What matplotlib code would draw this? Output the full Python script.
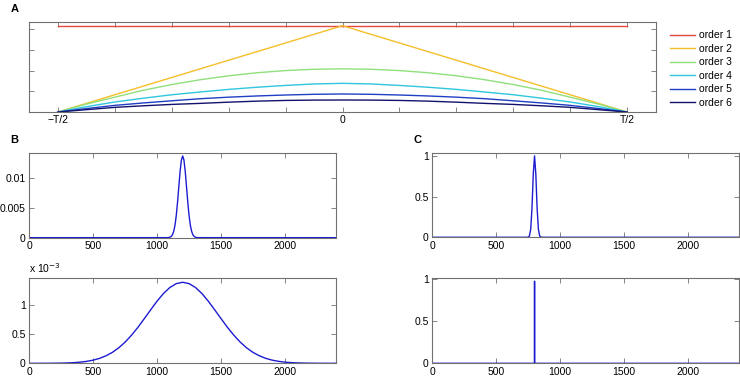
import numpy as np
import matplotlib.pyplot as plt

plt.rcParams['font.family'] = ['Liberation Sans', 'DejaVu Sans']

# panel A: window functions of increasing order over one period
win_x = [-0.5, -0.45, -0.4, -0.35, -0.3, -0.25, -0.2, -0.15, -0.1, -0.05, 0.0,
         0.05, 0.1, 0.15, 0.2, 0.25, 0.3, 0.35, 0.4, 0.45, 0.5]
order1 = [1.0] * 21
order2 = [0.0, 0.1, 0.2, 0.3, 0.4, 0.5, 0.6, 0.7, 0.8, 0.9, 1.0,
          0.9, 0.8, 0.7, 0.6, 0.5, 0.4, 0.3, 0.2, 0.1, 0.0]
order3 = [0.0, 0.092, 0.172, 0.252, 0.318, 0.374, 0.42, 0.455, 0.48, 0.495, 0.5,
          0.495, 0.48, 0.455, 0.42, 0.374, 0.318, 0.252, 0.172, 0.092, 0.0]
order4 = [0.0, 0.062, 0.116, 0.16, 0.2, 0.232, 0.262, 0.287, 0.308, 0.325, 0.332,
          0.325, 0.308, 0.287, 0.262, 0.232, 0.2, 0.16, 0.116, 0.062, 0.0]
order5 = [0.0, 0.04, 0.077, 0.105, 0.13, 0.154, 0.172, 0.186, 0.197, 0.205, 0.209,
          0.205, 0.197, 0.186, 0.172, 0.154, 0.13, 0.105, 0.077, 0.04, 0.0]
order6 = [0.0, 0.027, 0.054, 0.072, 0.088, 0.1, 0.114, 0.126, 0.134, 0.138, 0.139,
          0.138, 0.134, 0.126, 0.114, 0.1, 0.088, 0.072, 0.054, 0.027, 0.0]
orders = [order1, order2, order3, order4, order5, order6]
order_labels = ['order 1', 'order 2', 'order 3', 'order 4', 'order 5', 'order 6']
order_colors = ['#e6473f', '#f4bf2a', '#90e07c', '#2fc6de', '#1f3fc4', '#12126e']

# panel B top: narrow pulse
b1_x = [0, 1080, 1090, 1100, 1110, 1120, 1130, 1140, 1150, 1160, 1170, 1180, 1190, 1200,
        1210, 1220, 1230, 1240, 1250, 1260, 1270, 1280, 1290, 1300, 1310, 1320, 2400]
b1_y = [0, 0.000008, 0.000025, 0.000076, 0.0002, 0.00049, 0.00108, 0.00211, 0.00375,
        0.00598, 0.00861, 0.01117, 0.01305, 0.01375, 0.01305, 0.01117, 0.00861, 0.00598,
        0.00375, 0.00211, 0.00108, 0.00049, 0.0002, 0.000076, 0.000025, 0.000008, 0]

# panel B bottom: wide pulse (values in units of 1e-3)
b2_x = list(range(0, 2401, 50))
b2_y = [0.0001, 0.0002, 0.0005, 0.0009, 0.0019, 0.0036, 0.0066, 0.0117, 0.0202, 0.0338,
        0.0545, 0.085, 0.129, 0.188, 0.266, 0.364, 0.483, 0.618, 0.767, 0.919, 1.067,
        1.198, 1.301, 1.367, 1.39, 1.367, 1.301, 1.198, 1.067, 0.919, 0.767, 0.618,
        0.483, 0.364, 0.266, 0.188, 0.129, 0.085, 0.0545, 0.0338, 0.0202, 0.0117,
        0.0066, 0.0036, 0.0019, 0.0009, 0.0005, 0.0002, 0.0001]

# panel C top: normalised pulse
c1_x = [0, 740, 750, 760, 770, 780, 790, 800, 810, 820, 830, 840, 850, 860, 2400]
c1_y = [0, 0, 0.002, 0.017, 0.1, 0.36, 0.775, 1.0, 0.775, 0.36, 0.1, 0.017, 0.002, 0, 0]

# panel C bottom: spike
c2_x = [0, 799, 800, 801, 2400]
c2_y = [0, 0, 0.975, 0, 0]

pulse_ticks = [0, 500, 1000, 1500, 2000]
spine_col = '#707070'
line_col = '#1c1cd0'
fs = 7.5


def style_axes(ax):
    for s in ax.spines.values():
        s.set_color(spine_col)
        s.set_linewidth(0.8)
    ax.tick_params(direction='in', top=True, right=True, length=3.5, width=0.6,
                   color=spine_col, labelsize=fs, pad=2.5)


fig = plt.figure(figsize=(7.4, 3.77), dpi=100)

# panel A
axA = fig.add_axes([0.0392, 0.7029, 0.8473, 0.2395])
for ys, lab, col in zip(orders, order_labels, order_colors):
    axA.plot(win_x, ys, color=col, lw=1.0, label=lab)
axA.set_xlim(-0.551, 0.551)
axA.set_ylim(0, 1.046)
axA.set_xticks(np.round(np.arange(-0.5, 0.51, 0.1), 2))
axA.set_xticklabels(['\u2212T/2', '', '', '', '', '0', '', '', '', '', 'T/2'])
axA.set_yticks([0, 0.24, 0.48, 0.72, 0.96])
axA.set_yticklabels([])
style_axes(axA)
axA.legend(loc='upper left', bbox_to_anchor=(1.015, 0.95), frameon=False,
           fontsize=fs, handlelength=2.4, handletextpad=0.4, labelspacing=0.33,
           borderaxespad=0)

# panel B
axB1 = fig.add_axes([0.0396, 0.3695, 0.4145, 0.2255])
axB1.plot(b1_x, b1_y, color=line_col, lw=1.0)
axB1.set_xlim(0, 2400)
axB1.set_ylim(0, 0.0143)
axB1.set_yticks([0, 0.005, 0.01])
axB1.set_yticklabels(['0', '0.005', '0.01'])
axB1.set_xticks(pulse_ticks)
style_axes(axB1)

axB2 = fig.add_axes([0.0396, 0.0363, 0.4145, 0.2255])
axB2.plot(b2_x, b2_y, color=line_col, lw=1.0)
axB2.set_xlim(0, 2400)
axB2.set_ylim(0, 1.458)
axB2.set_yticks([0, 0.5, 1])
axB2.set_yticklabels(['0', '0.5', '1'])
axB2.set_xticks(pulse_ticks)
style_axes(axB2)
axB2.text(0.0, 1.04, 'x 10$^{-3}$', transform=axB2.transAxes, fontsize=fs,
          ha='left', va='bottom')

# panel C
axC1 = fig.add_axes([0.5842, 0.3706, 0.4145, 0.2245])
axC1.plot(c1_x, c1_y, color=line_col, lw=1.0)
axC1.set_xlim(0, 2400)
axC1.set_ylim(0, 1.04)
axC1.set_yticks([0, 0.5, 1])
axC1.set_yticklabels(['0', '0.5', '1'])
axC1.set_xticks(pulse_ticks)
style_axes(axC1)

axC2 = fig.add_axes([0.5842, 0.0363, 0.4145, 0.2255])
axC2.plot(c2_x, c2_y, color=line_col, lw=1.0)
axC2.set_xlim(0, 2400)
axC2.set_ylim(0, 1.01)
axC2.set_yticks([0, 0.5, 1])
axC2.set_yticklabels(['0', '0.5', '1'])
axC2.set_xticks(pulse_ticks)
style_axes(axC2)

# panel letters
fig.text(15 / 740, 1 - 9 / 377, 'A', fontsize=8, fontweight='bold', ha='center', va='center')
fig.text(14 / 740, 1 - 140 / 377, 'B', fontsize=8, fontweight='bold', ha='center', va='center')
fig.text(418 / 740, 1 - 140 / 377, 'C', fontsize=8, fontweight='bold', ha='center', va='center')

fig.savefig('out.png', dpi=100)
